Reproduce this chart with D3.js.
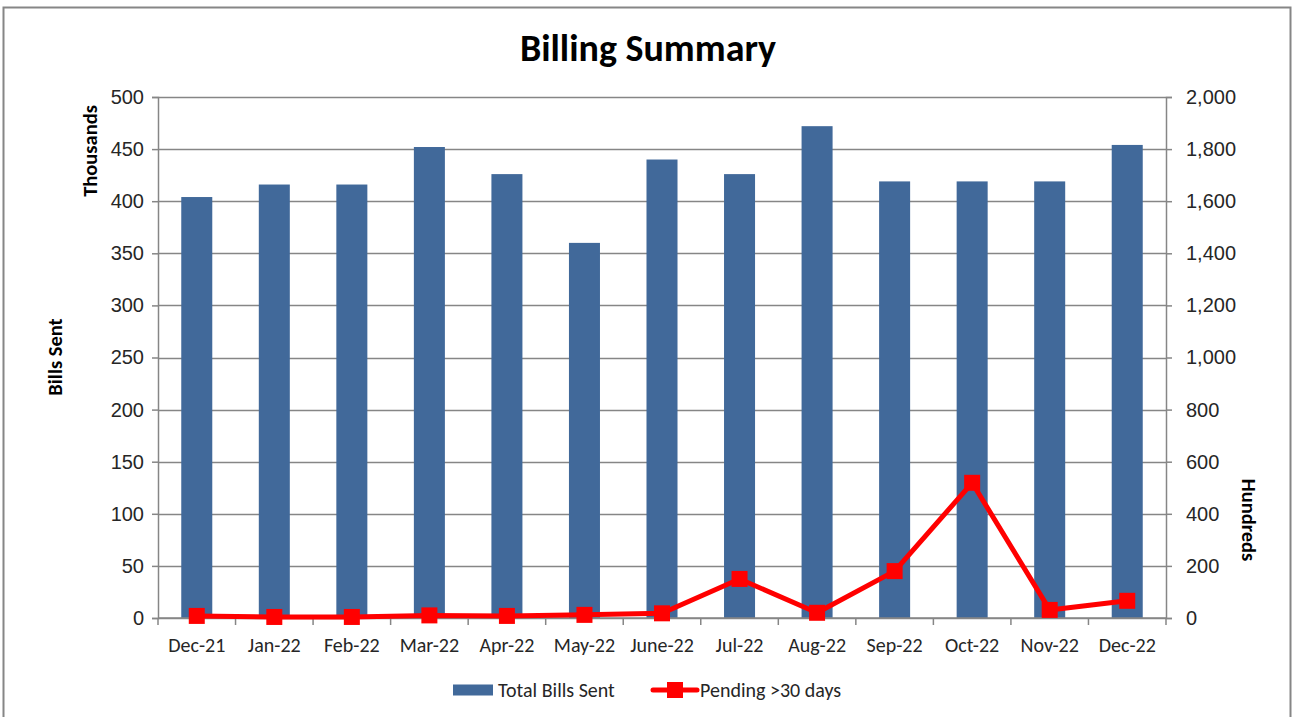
<!DOCTYPE html>
<html>
<head>
<meta charset="utf-8">
<script src="https://cdn.jsdelivr.net/npm/d3@7"></script>
<style>
  body { margin: 0; background: #fff; }
  svg { display: block; font-family: Carlito, Lato, "Liberation Sans", sans-serif; }
</style>
</head>
<body>
<svg id="chart" width="1296" height="717"></svg>
<script>
const months = ["Dec-21", "Jan-22", "Feb-22", "Mar-22", "Apr-22", "May-22", "June-22",
                "Jul-22", "Aug-22", "Sep-22", "Oct-22", "Nov-22", "Dec-22"];
// thousands
const billsSent = [404, 416, 416, 452, 426, 360, 440, 426, 472, 419, 419, 419, 454];
// hundreds
const pending = [8, 4, 4, 10, 8, 12, 18, 150, 20, 180, 519, 31, 66];
const leftTicks = [0, 50, 100, 150, 200, 250, 300, 350, 400, 450, 500];
const rightTicks = [0, 200, 400, 600, 800, 1000, 1200, 1400, 1600, 1800, 2000];

const width = 1296, height = 717;
const margin = {top: 97, right: 130, bottom: 99, left: 158};
const svg = d3.select("#chart");

// chart frame
svg.append("rect")
    .attr("x", 3.5).attr("y", 7.5)
    .attr("width", 1287).attr("height", 720)
    .attr("fill", "#fff")
    .attr("stroke", "#868686")
    .attr("stroke-width", 2);

const x = d3.scaleBand()
    .domain(months)
    .range([margin.left, width - margin.right]);

const y = d3.scaleLinear()
    .domain([0, 500])
    .range([height - margin.bottom, margin.top]);

const y2 = d3.scaleLinear()
    .domain([0, 2000])
    .range([height - margin.bottom, margin.top]);

const gridColor = "#868686";
const textColor = "#262626";
const fs = 20;

// gridlines
svg.append("g")
    .selectAll("line")
    .data(leftTicks)
    .join("line")
      .attr("x1", margin.left)
      .attr("x2", width - margin.right)
      .attr("y1", d => Math.round(y(d)) + 0.5)
      .attr("y2", d => Math.round(y(d)) + 0.5)
      .attr("stroke", gridColor)
      .attr("stroke-width", 1.5);

// bars
const barW = x.bandwidth() / 2.5;
svg.append("g")
    .attr("fill", "#41699A")
  .selectAll("rect")
  .data(months)
  .join("rect")
    .attr("x", d => x(d) + x.bandwidth() / 2 - barW / 2)
    .attr("y", (d, i) => y(billsSent[i]))
    .attr("width", barW)
    .attr("height", (d, i) => y(0) - y(billsSent[i]));

// left axis
const yAxis = svg.append("g")
    .attr("transform", `translate(${margin.left},0)`)
    .call(d3.axisLeft(y).tickValues(leftTicks).tickSize(6).tickPadding(8));
yAxis.select(".domain").attr("stroke", gridColor).attr("stroke-width", 1.5);
yAxis.selectAll(".tick line").attr("stroke", gridColor).attr("stroke-width", 1.5);
yAxis.selectAll("text").attr("font-size", fs).attr("fill", textColor).attr("font-family", null);

// right axis
const y2Axis = svg.append("g")
    .attr("transform", `translate(${width - margin.right},0)`)
    .call(d3.axisRight(y2).tickValues(rightTicks).tickSize(6).tickPadding(14)
        .tickFormat(d3.format(",")));
y2Axis.select(".domain").attr("stroke", gridColor).attr("stroke-width", 1.5);
y2Axis.selectAll(".tick line").attr("stroke", gridColor).attr("stroke-width", 1.5);
y2Axis.selectAll("text").attr("font-size", fs).attr("fill", textColor).attr("font-family", null);

// bottom axis: ticks between categories
const xAxis = svg.append("g")
    .attr("transform", `translate(0,${height - margin.bottom})`);
xAxis.append("line")
    .attr("x1", margin.left).attr("x2", width - margin.right)
    .attr("stroke", gridColor).attr("stroke-width", 1.5);
xAxis.selectAll(".sep")
  .data(months.concat(["end"]))
  .join("line")
    .attr("class", "sep")
    .attr("x1", (d, i) => i < months.length ? x(d) : x.range()[1])
    .attr("x2", (d, i) => i < months.length ? x(d) : x.range()[1])
    .attr("y1", 0).attr("y2", 7)
    .attr("stroke", gridColor).attr("stroke-width", 1.5);
xAxis.selectAll("text")
  .data(months)
  .join("text")
    .attr("x", d => x(d) + x.bandwidth() / 2)
    .attr("y", 34)
    .attr("text-anchor", "middle")
    .attr("font-size", fs)
    .attr("fill", textColor)
    .text(d => d);

// pending line
const line = d3.line()
    .x((d, i) => x(months[i]) + x.bandwidth() / 2)
    .y(d => y2(d));
svg.append("path")
    .datum(pending)
    .attr("fill", "none")
    .attr("stroke", "#FF0000")
    .attr("stroke-width", 5)
    .attr("stroke-linejoin", "round")
    .attr("d", line);
svg.append("g")
    .attr("fill", "#FF0000")
  .selectAll("rect")
  .data(pending)
  .join("rect")
    .attr("x", (d, i) => x(months[i]) + x.bandwidth() / 2 - 8)
    .attr("y", d => y2(d) - 8)
    .attr("width", 16)
    .attr("height", 16);

// title
svg.append("text")
    .attr("x", 648).attr("y", 61)
    .attr("text-anchor", "middle")
    .attr("font-size", 38)
    .attr("font-weight", "bold")
    .attr("fill", "#000")
    .text("Billing Summary");

// axis titles
svg.append("text")
    .attr("transform", "translate(62,357) rotate(-90)")
    .attr("text-anchor", "middle")
    .attr("font-size", 20.5).attr("font-weight", "bold").attr("fill", "#000")
    .text("Bills Sent");
svg.append("text")
    .attr("transform", "translate(97,151) rotate(-90)")
    .attr("text-anchor", "middle")
    .attr("font-size", 20.5).attr("font-weight", "bold").attr("fill", "#000")
    .text("Thousands");
svg.append("text")
    .attr("transform", "translate(1242,520) rotate(90)")
    .attr("text-anchor", "middle")
    .attr("font-size", 20.5).attr("font-weight", "bold").attr("fill", "#000")
    .text("Hundreds");

// legend
const legend = svg.append("g").attr("transform", "translate(0,690)");
legend.append("rect")
    .attr("x", 453).attr("y", -5.5)
    .attr("width", 40).attr("height", 11)
    .attr("fill", "#41699A");
legend.append("text")
    .attr("x", 498).attr("y", 7)
    .attr("font-size", fs).attr("fill", textColor)
    .text("Total Bills Sent");
legend.append("line")
    .attr("x1", 653).attr("x2", 697)
    .attr("stroke", "#FF0000").attr("stroke-width", 5).attr("stroke-linecap", "round");
legend.append("rect")
    .attr("x", 667).attr("y", -8)
    .attr("width", 16).attr("height", 16)
    .attr("fill", "#FF0000");
legend.append("text")
    .attr("x", 700).attr("y", 7)
    .attr("font-size", fs).attr("fill", textColor)
    .text("Pending >30 days");
</script>
</body>
</html>
